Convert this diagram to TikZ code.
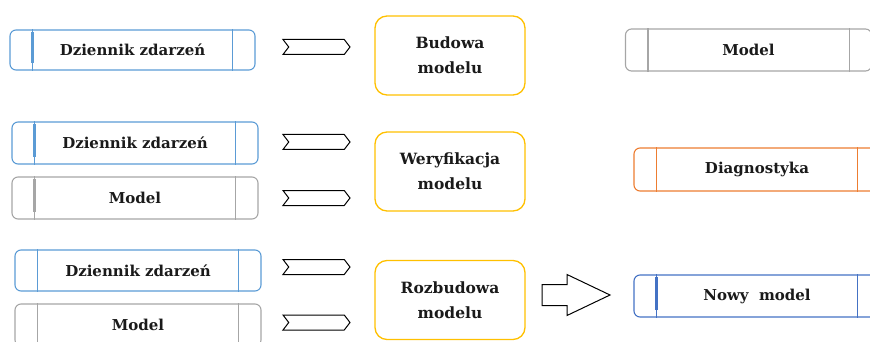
\documentclass[tikz,border=0pt]{standalone}
\usepackage{fontspec}
\newfontfamily\labelfont{DejaVu Serif}
\usetikzlibrary{shapes.symbols,calc}
\definecolor{logblue}{HTML}{5B9BD5}
\definecolor{modelgray}{HTML}{A6A6A6}
\definecolor{diagorange}{HTML}{ED7D31}
\definecolor{newblue}{HTML}{4472C4}
\definecolor{stageyellow}{HTML}{FFC000}
\definecolor{labelink}{HTML}{1A1A1A}

\tikzset{
  lane/.style={draw, line width=1.1pt, rounded corners=6pt, minimum width=246pt,
    minimum height=42pt, inner sep=0pt, text=labelink,
    font=\labelfont\bfseries\fontsize{15}{22}\selectfont},
  stage/.style={draw=stageyellow, line width=1.3pt, rounded corners=12pt,
    minimum width=150pt, minimum height=79pt, inner sep=0pt, align=center,
    text=labelink, font=\labelfont\bfseries\fontsize{15.5}{25}\selectfont},
  chev/.style={signal, signal from=west, signal to=east, draw=black,
    line width=1pt, minimum width=67pt, minimum height=15pt, inner sep=0pt,
    signal pointer angle=105},
  blockarrow/.style={draw=black, line width=1pt, line join=miter},
}

% vertical bars inside a lane box, 23pt in from each side
\newcommand{\lanebars}[2]{%
  \draw[#2, line width=1.1pt] ($(#1.north west)+(23,0)$) -- ($(#1.south west)+(23,0)$);
  \draw[#2, line width=1.1pt] ($(#1.north east)+(-23,0)$) -- ($(#1.south east)+(-23,0)$);}
\newcommand{\leftbar}[2]{%
  \draw[#2, line width=2.4pt] ($(#1.north west)+(23,3)$) -- ($(#1.south west)+(23,-8)$);}

\begin{document}
\begin{tikzpicture}[x=1pt, y=-1pt]
\useasboundingbox (0,0) rectangle (870,342);
\clip (0,0) rectangle (870,342);

% row 1: building the model
\node[lane, draw=logblue, minimum width=245pt, minimum height=40pt] (log1) at (132.5,50) {Dziennik zdarzeń};
\lanebars{log1}{logblue}\leftbar{log1}{logblue}
\node[chev] (c1) at (316.5,47) {};
\node[stage] (build) at (450,55.5) {Budowa\\modelu};
\node[lane, draw=modelgray] (model1) at (748.5,50) {Model};
\lanebars{model1}{modelgray}

% row 2: verifying the model
\node[lane, draw=logblue] (log2) at (135,143) {Dziennik zdarzeń};
\lanebars{log2}{logblue}\leftbar{log2}{logblue}
\node[lane, draw=modelgray] (model2) at (135,198) {Model};
\lanebars{model2}{modelgray}\leftbar{model2}{modelgray}
\node[chev] (c2) at (316.5,142) {};
\node[chev] (c3) at (316.5,198) {};
\node[stage] (verify) at (450,171.5) {Weryfikacja\\modelu};
\node[lane, draw=diagorange, minimum height=43pt] (diag) at (757,169.5) {Diagnostyka};
\lanebars{diag}{diagorange}

% row 3: extending the model
\node[lane, draw=logblue, minimum height=41pt] (log3) at (138,270.5) {Dziennik zdarzeń};
\lanebars{log3}{logblue}
\node[lane, draw=modelgray] (model3) at (138,325) {Model};
\lanebars{model3}{modelgray}
\node[chev] (c4) at (316.5,267) {};
\node[chev] (c5) at (316.5,322.5) {};
\node[stage] (extend) at (450,300) {Rozbudowa\\modelu};
% block arrow from the extension stage to the new model
\coordinate (out) at (542,295);
\draw[blockarrow] (out) ++(0,-10.5) -- ++(25,0) -- ++(0,-10) -- (610,295)
  -- (567,315.5) -- ++(0,-10) -- ++(-25,0) -- cycle;
\node[lane, draw=newblue] (newmodel) at (757,296) {Nowy\ \ model};
\lanebars{newmodel}{newblue}\leftbar{newmodel}{newblue}
\end{tikzpicture}
\end{document}
